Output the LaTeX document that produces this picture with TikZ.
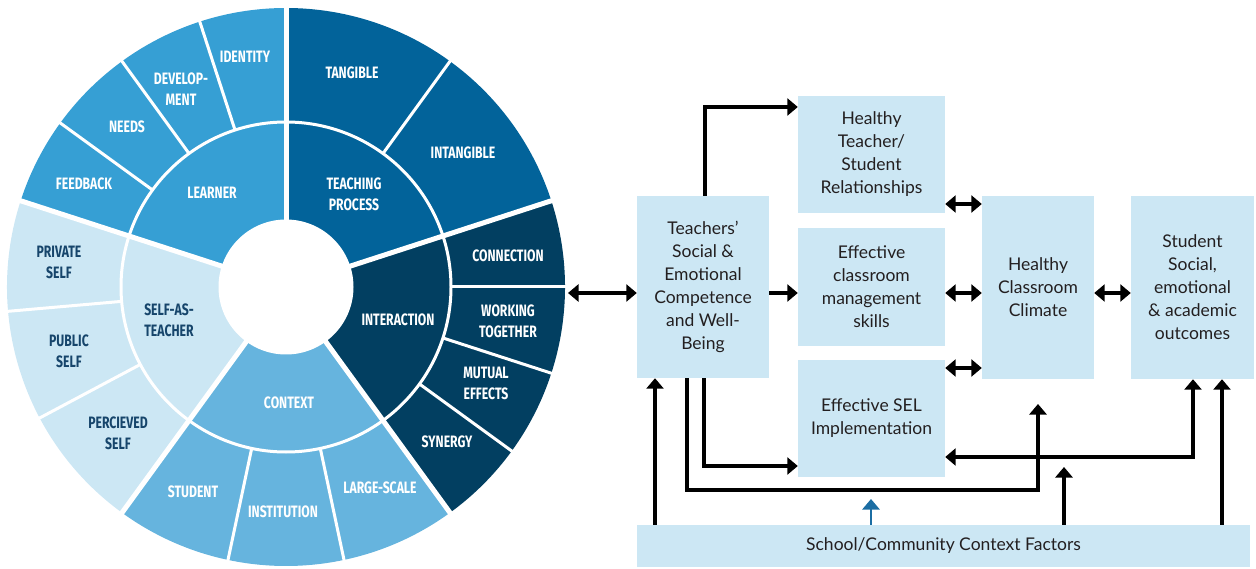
\documentclass[tikz,border=0pt]{standalone}
\usepackage{fontspec}
\setmainfont{Lato}
\newfontfamily\segfont{Fira Sans}[FakeStretch=0.74]
\usetikzlibrary{arrows.meta}
\definecolor{clearn}{HTML}{369FD4}
\definecolor{cteach}{HTML}{02639A}
\definecolor{cinter}{HTML}{023F61}
\definecolor{ccont}{HTML}{66B4DE}
\definecolor{cself}{HTML}{CCE7F4}
\definecolor{cbox}{HTML}{CCE7F4}
\definecolor{cselftext}{HTML}{16456B}
\definecolor{cblue}{HTML}{1B6DA3}
\definecolor{ctext}{HTML}{231F20}
\begin{document}
\begin{tikzpicture}[x=1pt,y=-1pt,
  seg/.style={font=\segfont\bfseries\fontsize{16.5}{21}\selectfont, text=white, align=center, inner sep=0pt},
  segd/.style={seg, text=cselftext},
  box/.style={fill=cbox, draw=none, inner sep=0pt, align=center, font=\fontsize{17.5}{23}\selectfont, text=ctext},
  arr/.style={line width=3.1pt, -{Triangle[length=10.5pt,width=17pt]}},
  darr/.style={line width=3.1pt, {Triangle[length=10.5pt,width=17pt]}-{Triangle[length=10.5pt,width=17pt]}},
]
\useasboundingbox (0,0) rectangle (1256,569);
% ---------- sunburst ----------
\begin{scope}[shift={(286,287)}, x=1pt, y=1pt]
  \fill[cteach] (0,0) -- (18:279) arc[start angle=18, end angle=90, radius=279] -- cycle;
  \fill[clearn] (0,0) -- (90:279) arc[start angle=90, end angle=162, radius=279] -- cycle;
  \fill[cself]  (0,0) -- (162:279) arc[start angle=162, end angle=234, radius=279] -- cycle;
  \fill[ccont]  (0,0) -- (234:279) arc[start angle=234, end angle=306, radius=279] -- cycle;
  \fill[cinter] (0,0) -- (306:279) arc[start angle=306, end angle=378, radius=279] -- cycle;
  \foreach \a in {54,108,126,144,185,208,258,282,0,-18,-36}
    \draw[white, line width=3pt] (\a:165) -- (\a:284);
  \draw[white, line width=3pt] (0,0) circle[radius=165];
  \foreach \a in {18,90,162,234,306}
    \draw[white, line width=5pt] (0,0) -- (\a:284);
  \fill[white] (0,0) circle[radius=67.5];
\end{scope}
% inner ring labels
\node[seg] (learner) at (212,193) {LEARNER};
\node[seg] (tproc) at (354,194.5) {TEACHING\\PROCESS};
\node[seg] (inter) at (398,320) {INTERACTION};
\node[seg] (context) at (289,403) {CONTEXT};
\node[segd] (selfas) at (169,320) {SELF-AS-\\TEACHER};
% outer ring labels
\node[seg] (identity) at (245,57) {IDENTITY};
\node[seg] (develop) at (181,89.5) {DEVELOP-\\MENT};
\node[seg] (needs) at (127,127) {NEEDS};
\node[seg] (feedback) at (84,184) {FEEDBACK};
\node[seg] (tangible) at (352,73) {TANGIBLE};
\node[seg] (intangible) at (463,153) {INTANGIBLE};
\node[seg] (connection) at (508,256) {CONNECTION};
\node[seg] (working) at (508,321.5) {WORKING\\TOGETHER};
\node[seg] (mutual) at (486,383.5) {MUTUAL\\EFFECTS};
\node[seg] (synergy) at (447,442) {SYNERGY};
\node[seg] (large) at (380,488) {LARGE-SCALE};
\node[seg] (institution) at (283,512) {INSTITUTION};
\node[seg] (student) at (193,492) {STUDENT};
\node[segd] (perceived) at (118,433.5) {PERCIEVED\\SELF};
\node[segd] (public) at (69,351) {PUBLIC\\SELF};
\node[segd] (private) at (59,262) {PRIVATE\\SELF};
% ---------- flowchart ----------
\node[box, minimum width=132pt, minimum height=182pt] (teach) at (703,287) {Teachers’\\Social \&\\Emotional\\Competence\\and Well-\\Being};
\node[box, minimum width=147pt, minimum height=117pt] (htsr) at (871.5,154.5) {Healthy\\Teacher/\\Student\\Relationships};
\node[box, minimum width=147pt, minimum height=118pt] (ecms) at (871.5,287) {Effective\\classroom\\management\\skills};
\node[box, minimum width=147pt, minimum height=117pt] (sel) at (871.5,418.5) {Effective SEL\\Implementation};
\node[box, minimum width=112pt, minimum height=183pt] (hcc) at (1038,287.5) {Healthy\\Classroom\\Climate};
\node[box, minimum width=123pt, minimum height=183pt] (sso) at (1192.5,287.5) {Student\\Social,\\emotional\\\& academic\\outcomes};
\node[box, minimum width=613pt, minimum height=42pt] (school) at (943.5,546) {School/Community Context Factors};
% coordinates
\coordinate (sbE) at (568,293);
\coordinate (k1) at (705,107);
\coordinate (k2) at (0,293);
\coordinate (k3) at (704,466);
\coordinate (k4) at (687,490);
\coordinate (k5) at (1038,404);
\coordinate (k6) at (655,0);
\coordinate (k7) at (871,499);
\coordinate (k8) at (1064,467);
\coordinate (k9) at (1193,457);
\coordinate (k10) at (1222,0);
\coordinate (k11) at (0,204);
\coordinate (k13) at (0,368);
% connectors
\draw[darr] (sbE) -- (teach.west |- sbE);
\draw[arr] (teach.north -| k1) |- (htsr.west |- k1);
\draw[arr] (teach.east |- k2) -- (ecms.west |- k2);
\draw[arr] (teach.south -| k3) |- (sel.west |- k3);
\draw[arr] (teach.south -| k4) |- (k5 |- k4) -- (k5);
\draw[arr] (school.north -| k6) -- (teach.south -| k6);
\draw[arr, cblue, line width=2.6pt] (school.north -| k7) -- (k7);
\draw[arr] (school.north -| k8) -- (k8);
\draw[darr] (sel.east |- k9) -| (sso.south -| k9);
\draw[arr] (school.north -| k10) -- (sso.south -| k10);
\draw[darr] (htsr.east |- k11) -- (hcc.west |- k11);
\draw[darr] (ecms.east |- k2) -- (hcc.west |- k2);
\draw[darr] (sel.east |- k13) -- (hcc.west |- k13);
\draw[darr] (hcc.east |- k2) -- (sso.west |- k2);
\end{tikzpicture}
\end{document}
